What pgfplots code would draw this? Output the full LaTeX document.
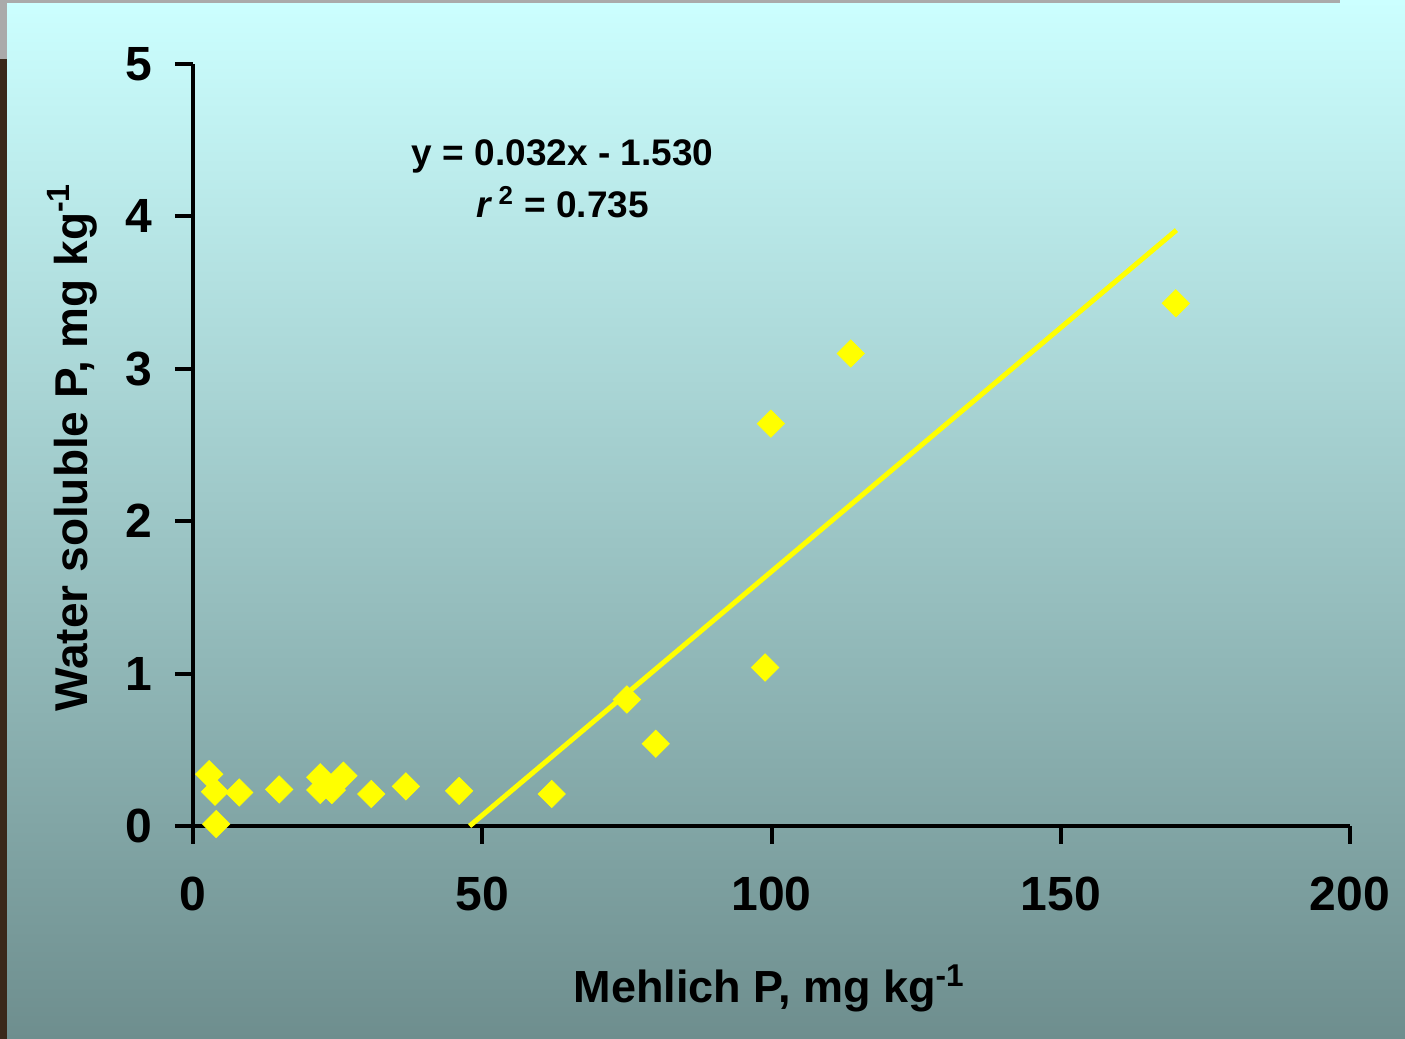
\documentclass[border=0pt]{standalone}
\usepackage{pgfplots}
\pgfplotsset{compat=1.18}
\usepackage{fontspec}
\setmainfont{Liberation Sans}

\definecolor{bgtop}{RGB}{204,255,255}
\definecolor{bgbot}{RGB}{110,142,142}
\definecolor{ptyellow}{RGB}{255,255,0}
\definecolor{framegray}{RGB}{170,170,170}
\definecolor{photodark}{RGB}{58,40,26}

% Mehlich P (x) and water soluble P (y), mg/kg
\pgfplotstableread{
x      y
2.8    0.34
3.8    0.225
4.0    0.013
8.0    0.22
14.9   0.24
22.0   0.32
22.0   0.236
24.0   0.236
26.0   0.33
30.8   0.21
36.8   0.26
46.0   0.23
62.0   0.21
75.0   0.83
80.0   0.54
98.9   1.04
99.9   2.64
113.7  3.10
169.9  3.43
}\soildata

\begin{document}
\begin{tikzpicture}
% slide backdrop
\shade[top color=bgtop, bottom color=bgbot] (0pt,0pt) rectangle (702.5pt,519.5pt);
\fill[framegray] (0pt,518pt) rectangle (670pt,519.5pt);
\fill[photodark] (0pt,0pt) rectangle (3.5pt,490pt);
\fill[framegray] (0pt,490pt) rectangle (3.5pt,519.5pt);
\useasboundingbox (0pt,0pt) rectangle (702.5pt,519.5pt);

\begin{axis}[
  at={(96.5pt,106.5pt)}, anchor=south west,
  scale only axis, width=578.5pt, height=381pt,
  xmin=0, xmax=200, ymin=0, ymax=5,
  clip=false,
  axis x line*=bottom, axis y line*=left,
  axis line style={line width=2pt, black},
  xtick={0,50,100,150,200}, ytick={0,1,2,3,4,5},
  tick align=outside,
  major tick length=9pt,
  major tick style={line width=2pt, black},
  /pgf/number format/assume math mode=true,
  tick label style={font=\fontsize{24}{28}\selectfont\bfseries},
  xticklabel style={yshift=-13pt},
  yticklabel style={xshift=-8pt},
  xlabel={Mehlich P, mg kg\textsuperscript{-1}},
  xlabel style={at={(axis description cs:0.498,-0.231)}, anchor=base,
                font=\fontsize{22.5}{26}\selectfont\bfseries},
  ylabel={Water soluble P, mg kg\textsuperscript{-1}},
  ylabel style={at={(axis description cs:-0.0908,0.497)}, anchor=base,
                font=\fontsize{23}{27}\selectfont\bfseries},
]
% fitted line y = 0.032x - 1.530
\addplot[ptyellow, line width=2.5pt, no marks] coordinates {(47.81,0) (170,3.91)};
\addplot[only marks, mark=square*, mark size=4.8pt,
         mark options={rotate=45, fill=ptyellow, draw=ptyellow}]
  table[x=x, y=y] {\soildata};

\node[anchor=base, font=\fontsize{18.5}{22}\selectfont\bfseries]
  at (axis cs:63.9,4.337) {y = 0.032x - 1.530};
\node[anchor=base, font=\fontsize{18.5}{22}\selectfont\bfseries]
  at (axis cs:63.9,3.996) {\textit{r}\,\textsuperscript{2} = 0.735};
\end{axis}
\end{tikzpicture}
\end{document}
